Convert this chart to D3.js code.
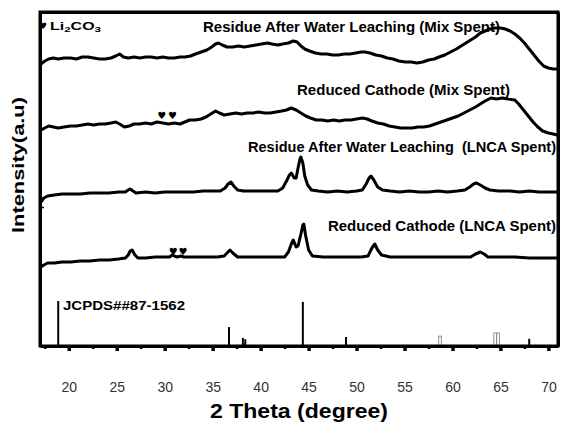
<!DOCTYPE html>
<html>
<head>
<meta charset="utf-8">
<script src="https://cdn.jsdelivr.net/npm/d3@7"></script>
<style>
  body { margin: 0; background: #fff; }
  svg { display: block; font-family: "Liberation Sans", Arial, Helvetica, sans-serif; }
</style>
</head>
<body>
<script>
// XRD patterns, [2theta, intensity a.u.] (traces are stacked with offsets)
const residueMix = [[17.1, 282], [17.5, 285], [17.9, 287], [18.4, 288], [18.9, 287], [19.5, 288], [20.2, 288], [20.8, 287], [21.4, 289], [22.0, 289], [22.6, 288], [23.2, 287], [23.8, 287], [24.4, 288], [24.9, 290], [25.3, 292], [25.7, 289], [26.2, 288], [26.8, 289], [27.4, 288], [28.0, 289], [28.6, 289], [29.2, 288], [29.8, 289], [30.4, 288], [31.0, 288], [31.6, 289], [32.1, 289], [32.7, 290], [33.2, 292], [33.8, 294], [34.4, 296], [34.9, 299], [35.3, 302], [35.6, 303], [36.0, 301], [36.5, 299], [37.1, 299], [37.7, 300], [38.3, 299], [38.9, 300], [39.5, 301], [40.1, 302], [40.7, 303], [41.2, 302], [41.8, 301], [42.3, 302], [42.9, 303], [43.4, 305], [43.8, 304], [44.2, 300], [44.6, 297], [45.1, 295], [45.7, 293], [46.3, 292], [46.9, 292], [47.5, 291], [48.1, 291], [48.7, 292], [49.3, 292], [49.9, 293], [50.5, 294], [50.9, 294], [51.4, 293], [52.0, 291], [52.6, 290], [53.2, 288], [53.8, 287], [54.4, 285], [55.1, 284], [55.7, 284], [56.3, 283], [56.9, 284], [57.5, 286], [58.1, 287], [58.6, 289], [59.2, 291], [59.8, 294], [60.4, 297], [60.9, 300], [61.4, 303], [61.9, 306], [62.4, 309], [62.9, 313], [63.4, 315], [63.9, 317], [64.4, 318], [65.0, 318], [65.5, 317], [66.0, 315], [66.5, 312], [67.0, 308], [67.5, 303], [68.0, 297], [68.5, 291], [69.0, 285], [69.5, 280], [70.0, 278], [70.5, 277], [70.9, 277]];

const reducedMix = [[17.1, 216], [17.5, 218], [17.9, 220], [18.4, 219], [18.9, 218], [19.5, 219], [20.2, 220], [20.8, 220], [21.4, 221], [22.0, 222], [22.6, 221], [23.2, 222], [23.8, 222], [24.4, 223], [24.9, 224], [25.3, 222], [25.8, 219], [26.3, 220], [26.8, 222], [27.4, 222], [28.0, 223], [28.6, 222], [29.2, 224], [29.8, 223], [30.4, 222], [31.0, 223], [31.6, 222], [32.1, 224], [32.6, 226], [33.2, 226], [33.8, 227], [34.3, 229], [34.8, 232], [35.3, 235], [35.7, 233], [36.2, 231], [36.8, 232], [37.4, 233], [38.0, 232], [38.6, 233], [39.2, 233], [39.8, 234], [40.4, 233], [41.0, 233], [41.6, 234], [42.2, 235], [42.7, 236], [43.2, 238], [43.7, 236], [44.2, 233], [44.7, 230], [45.2, 228], [45.8, 226], [46.4, 226], [47.0, 225], [47.6, 226], [48.2, 225], [48.8, 226], [49.4, 226], [50.0, 227], [50.6, 228], [51.1, 227], [51.6, 225], [52.2, 223], [52.8, 222], [53.4, 220], [54.0, 219], [54.6, 218], [55.2, 218], [55.8, 218], [56.4, 219], [57.0, 219], [57.6, 220], [58.2, 222], [58.8, 224], [59.4, 226], [60.0, 228], [60.6, 230], [61.2, 233], [61.8, 236], [62.4, 239], [62.9, 242], [63.4, 245], [64.0, 248], [64.6, 247], [65.2, 248], [65.8, 247], [66.5, 246], [66.9, 242], [67.4, 236], [67.9, 230], [68.4, 224], [68.9, 219], [69.4, 215], [70.0, 213], [70.5, 212], [70.9, 211]];

const residueLnca = [[17.1, 144], [17.4, 148], [17.8, 150], [18.5, 151], [19.3, 152], [20.2, 152], [21.2, 152], [22.2, 153], [23.2, 153], [24.2, 153], [25.2, 154], [25.9, 154], [26.2, 156], [26.4, 157], [26.7, 155], [27.0, 153], [28.0, 154], [29.0, 153], [30.0, 154], [31.0, 154], [32.0, 154], [33.0, 154], [34.0, 155], [35.0, 155], [35.8, 155], [36.3, 158], [36.6, 162], [36.9, 164], [37.2, 160], [37.6, 156], [38.2, 155], [39.0, 155], [40.0, 155], [41.0, 155], [41.8, 155], [42.3, 158], [42.7, 165], [43.0, 171], [43.2, 173], [43.5, 168], [43.7, 168], [43.9, 178], [44.1, 187], [44.2, 189], [44.4, 183], [44.6, 170], [44.9, 161], [45.3, 156], [46.0, 155], [47.0, 154], [48.0, 155], [49.0, 154], [50.0, 155], [50.6, 156], [51.0, 162], [51.3, 168], [51.5, 170], [51.8, 166], [52.2, 159], [52.7, 156], [53.5, 155], [54.5, 154], [55.5, 155], [56.5, 154], [57.5, 154], [58.5, 155], [59.5, 154], [60.5, 155], [61.3, 156], [61.8, 159], [62.2, 162], [62.5, 163], [62.9, 161], [63.4, 158], [63.9, 156], [64.8, 155], [66.0, 155], [67.0, 154], [68.0, 155], [69.0, 154], [70.0, 154], [70.9, 154]];

const reducedLnca = [[17.1, 79], [17.4, 81], [17.8, 83], [18.5, 83], [19.3, 84], [20.2, 84], [21.2, 85], [22.2, 85], [23.2, 86], [24.2, 86], [25.2, 87], [25.9, 88], [26.2, 91], [26.4, 95], [26.6, 96], [26.9, 91], [27.2, 88], [28.0, 88], [29.0, 89], [30.0, 89], [30.5, 89], [30.8, 91], [31.0, 90], [31.3, 89], [31.7, 90], [32.0, 89], [32.4, 89], [33.5, 89], [34.5, 89], [35.5, 89], [36.2, 90], [36.6, 94], [36.8, 96], [37.1, 93], [37.6, 89], [38.5, 89], [39.5, 89], [40.5, 89], [41.5, 89], [42.5, 89], [42.9, 94], [43.2, 102], [43.4, 106], [43.7, 99], [43.9, 100], [44.2, 112], [44.4, 121], [44.5, 122], [44.7, 110], [45.0, 96], [45.4, 90], [46.5, 89], [47.5, 89], [48.5, 89], [49.5, 89], [50.5, 89], [51.2, 90], [51.6, 98], [51.9, 102], [52.2, 96], [52.6, 91], [53.5, 89], [55.0, 89], [56.5, 89], [58.0, 89], [59.5, 89], [61.0, 89], [61.9, 89], [62.4, 92], [62.9, 94], [63.3, 92], [63.7, 89], [65.0, 89], [66.5, 89], [68.0, 88], [69.5, 88], [70.9, 88]];

const traceLabels = [
    "Residue After Water Leaching (Mix Spent)",
    "Reduced Cathode (Mix Spent)",
    "Residue After Water Leaching  (LNCA Spent)",
    "Reduced Cathode (LNCA Spent)"
];

// JCPDS 87-1562 reference lines, [2theta, relative intensity]
const refPeaks = [[18.9, 100], [36.7, 42], [38.15, 18], [38.4, 15], [44.4, 98], [48.9, 20], [68.0, 16]];
const refPeaksWeak = [[58.7, 22], [64.45, 29], [64.75, 29]];
const refLabel = "JCPDS##87-1562";

// Li2CO3 markers (2theta)
const heartsMix = [29.7, 30.8];
const heartsLnca = [30.9, 31.9];

const majorTicks = [20, 25, 30, 35, 40, 45, 50, 55, 60, 65, 70];
const minorTicks = [17.5, 22.5, 27.5, 32.5, 37.5, 42.5, 47.5, 52.5, 57.5, 62.5, 67.5];
const leftTicks = [139, 217];

const width = 564, height = 422;
const margin = { top: 12, right: 6, bottom: 76, left: 40 };
const baseY = height - margin.bottom;
const rightX = width - margin.right;

const svg = d3.select('body').append('svg')
    .attr('width', width)
    .attr('height', height);

const x = d3.scaleLinear()
    .domain([17, 71])
    .range([margin.left, rightX]);

const y = d3.scaleLinear()
    .domain([0, 334])
    .range([baseY, margin.top]);

const yRef = d3.scaleLinear()
    .domain([0, 100])
    .range([baseY, baseY - 45]);

// reference stick pattern
svg.append('g').selectAll('line')
    .data(refPeaks)
    .enter().append('line')
    .attr('x1', d => x(d[0]))
    .attr('x2', d => x(d[0]))
    .attr('y1', baseY)
    .attr('y2', d => yRef(d[1]))
    .attr('stroke', '#000')
    .attr('stroke-width', 2);

svg.append('g').selectAll('rect')
    .data(refPeaksWeak)
    .enter().append('rect')
    .attr('x', d => x(d[0]) - 1.3)
    .attr('y', d => yRef(d[1]))
    .attr('width', 2.6)
    .attr('height', d => baseY - yRef(d[1]))
    .attr('fill', '#fff')
    .attr('stroke', '#777')
    .attr('stroke-width', 0.8);

// traces
const line = d3.line()
    .x(d => x(d[0]))
    .y(d => y(d[1]));

svg.append('g').selectAll('path')
    .data([residueMix, reducedMix, residueLnca, reducedLnca])
    .enter().append('path')
    .attr('d', line)
    .attr('fill', 'none')
    .attr('stroke', '#000')
    .attr('stroke-width', 3)
    .attr('stroke-linejoin', 'round');

// trace labels
const labelPos = [
    { x: 203, y: 32, len: 297 },
    { x: 297, y: 95, len: 213 },
    { x: 248, y: 152, len: 308 },
    { x: 328, y: 231, len: 228 }
];
svg.append('g').selectAll('text')
    .data(traceLabels)
    .enter().append('text')
    .attr('x', (d, i) => labelPos[i].x)
    .attr('y', (d, i) => labelPos[i].y)
    .attr('textLength', (d, i) => labelPos[i].len)
    .attr('lengthAdjust', 'spacingAndGlyphs')
    .attr('font-size', 15)
    .attr('font-weight', 'bold')
    .style('white-space', 'pre')
    .text(d => d);

svg.append('text')
    .attr('x', 63)
    .attr('y', 310)
    .attr('textLength', 122)
    .attr('lengthAdjust', 'spacingAndGlyphs')
    .attr('font-size', 13)
    .attr('font-weight', 'bold')
    .text(refLabel);

// Li2CO3 markers
function drawHearts(list, level) {
    svg.append('g').selectAll('text')
        .data(list)
        .enter().append('text')
        .attr('x', d => x(d))
        .attr('y', y(level))
        .attr('text-anchor', 'middle')
        .attr('dominant-baseline', 'central')
        .attr('font-family', 'DejaVu Sans')
        .attr('font-size', 10)
        .text('\u2665');
}
drawHearts(heartsMix, 231);
drawHearts(heartsLnca, 95);

// legend
svg.append('text')
    .attr('x', 43)
    .attr('y', 26)
    .attr('text-anchor', 'middle')
    .attr('dominant-baseline', 'central')
    .attr('font-family', 'DejaVu Sans')
    .attr('font-size', 9)
    .text('\u2665');

const legend = svg.append('text')
    .attr('x', 50)
    .attr('y', 30)
    .attr('font-size', 11)
    .attr('font-weight', 'bold')
    .attr('textLength', 51)
    .attr('lengthAdjust', 'spacingAndGlyphs');
legend.append('tspan').text('Li');
legend.append('tspan').attr('font-size', 8).attr('dy', 2).text('2');
legend.append('tspan').attr('dy', -2).text('CO');
legend.append('tspan').attr('font-size', 8).attr('dy', 2).text('3');

// axes, domain lines make up the box
const xAxis = svg.append('g')
    .attr('transform', `translate(0,${baseY})`)
    .call(d3.axisBottom(x).tickValues(majorTicks).tickSize(5).tickPadding(31).tickSizeOuter(0));
xAxis.select('.domain').attr('stroke', '#000').attr('stroke-width', 3);
xAxis.selectAll('.tick line').attr('stroke', '#000').attr('stroke-width', 3.5);
xAxis.selectAll('.tick text')
    .attr('font-size', 14)
    .attr('fill', '#333')
    .attr('font-family', '"Liberation Sans", Arial, sans-serif');

const xMinor = svg.append('g')
    .attr('transform', `translate(0,${baseY})`)
    .call(d3.axisBottom(x).tickValues(minorTicks).tickSize(3).tickFormat(() => ''));
xMinor.select('.domain').remove();
xMinor.selectAll('.tick line').attr('stroke', '#000').attr('stroke-width', 2.5);

const xTop = svg.append('g')
    .attr('transform', `translate(0,${margin.top})`)
    .call(d3.axisTop(x).tickValues([]).tickSizeOuter(0));
xTop.select('.domain').attr('stroke', '#000').attr('stroke-width', 3);

const yAxis = svg.append('g')
    .attr('transform', `translate(${margin.left},0)`)
    .call(d3.axisLeft(y).tickValues(leftTicks).tickSize(-4).tickSizeOuter(0).tickFormat(() => ''));
yAxis.select('.domain').attr('stroke', '#000').attr('stroke-width', 3);
yAxis.selectAll('.tick line').attr('stroke', '#000').attr('stroke-width', 1.5);

const yRight = svg.append('g')
    .attr('transform', `translate(${rightX},0)`)
    .call(d3.axisRight(y).tickValues([]).tickSizeOuter(0));
yRight.select('.domain').attr('stroke', '#000').attr('stroke-width', 3);

// box outline once more as a plain path
svg.append('path')
    .attr('d', `M${margin.left},${margin.top}H${rightX}V${baseY}H${margin.left}Z`)
    .attr('fill', 'none')
    .attr('stroke', '#000')
    .attr('stroke-width', 3);

// axis titles
svg.append('text')
    .attr('x', 299)
    .attr('y', 418)
    .attr('text-anchor', 'middle')
    .attr('textLength', 178)
    .attr('lengthAdjust', 'spacingAndGlyphs')
    .attr('font-size', 20)
    .attr('font-weight', 'bold')
    .text('2 Theta (degree)');

svg.append('text')
    .attr('transform', 'translate(24,165) rotate(-90)')
    .attr('text-anchor', 'middle')
    .attr('textLength', 136)
    .attr('lengthAdjust', 'spacingAndGlyphs')
    .attr('font-size', 17)
    .attr('font-weight', 'bold')
    .text('Intensity(a.u)');
</script>
</body>
</html>
